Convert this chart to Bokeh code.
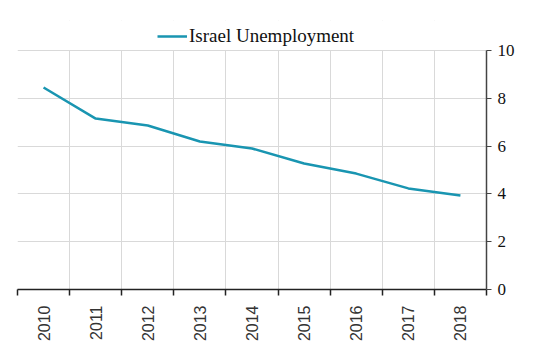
from bokeh.plotting import figure
from bokeh.models import FixedTicker, LinearAxis, Range1d, Legend, LegendItem, Grid, BoxAnnotation
from bokeh.embed import file_html
from bokeh.resources import INLINE
import math

years = ["2010", "2011", "2012", "2013", "2014", "2015", "2016", "2017", "2018"]
unemployment = [8.45, 7.15, 6.86, 6.19, 5.9, 5.27, 4.85, 4.23, 3.93]
series_name = "Israel Unemployment"
y_ticks = [0, 2, 4, 6, 8, 10]

xs = [i + 0.5 for i in range(len(years))]
SERIF = "'Liberation Serif', 'Times New Roman', serif"
Y_MAX = 10
Y_TOP = 11.255  # headroom for legend

p = figure(width=535, height=356, output_backend="svg", toolbar_location=None,
           x_range=Range1d(0, len(years)), y_range=Range1d(0, Y_TOP),
           x_axis_location=None, y_axis_location=None,
           min_border_left=17, min_border_right=49, min_border_top=20, min_border_bottom=67)
p.outline_line_color = None
p.background_fill_color = "white"
p.border_fill_color = "white"
p.xgrid.visible = False
p.ygrid.visible = False

vgrid = Grid(dimension=0, ticker=FixedTicker(ticks=list(range(len(years) + 1))),
             grid_line_color="#d9d9d9", grid_line_width=1)
p.add_layout(vgrid)
# mask grid above the top of the value axis
p.add_layout(BoxAnnotation(bottom=Y_MAX, fill_color="white", fill_alpha=1,
                           line_color=None, level="underlay"))
hgrid = Grid(dimension=1, ticker=FixedTicker(ticks=y_ticks),
             grid_line_color="#d9d9d9", grid_line_width=1)
p.add_layout(hgrid)

line = p.line(xs, unemployment, line_color="#1995b1", line_width=2.5)

# x axis
xaxis = LinearAxis(ticker=FixedTicker(ticks=xs, minor_ticks=list(range(len(years) + 1))))
xaxis.major_label_overrides = {x: y for x, y in zip(xs, years)}
xaxis.major_label_orientation = math.pi / 2
xaxis.major_tick_in = 0
xaxis.major_tick_out = 0
xaxis.minor_tick_in = 0
xaxis.minor_tick_out = 6
xaxis.minor_tick_line_color = "#222222"
xaxis.minor_tick_line_width = 1.5
xaxis.axis_line_color = "#222222"
xaxis.axis_line_width = 1.5
xaxis.major_label_text_font = "'Liberation Sans', Arial, sans-serif"
xaxis.major_label_text_font_size = "16px"
xaxis.major_label_text_color = "#333333"
xaxis.major_label_standoff = 10
p.add_layout(xaxis, "below")

# right y axis
yaxis = LinearAxis(ticker=FixedTicker(ticks=y_ticks), bounds=(0, Y_MAX))
yaxis.major_tick_in = 0
yaxis.major_tick_out = 5
yaxis.minor_tick_line_color = None
yaxis.axis_line_color = "#444444"
yaxis.axis_line_width = 1.5
yaxis.major_tick_line_color = "#444444"
yaxis.major_label_text_font = SERIF
yaxis.major_label_text_font_size = "17px"
yaxis.major_label_text_color = "#111111"
yaxis.major_label_standoff = 6
p.add_layout(yaxis, "right")

legend = Legend(items=[LegendItem(label=series_name, renderers=[line])],
                orientation="horizontal", location=(140, 242),
                label_text_font=SERIF, label_text_font_size="19px",
                label_text_color="#111111", glyph_width=30, glyph_height=16,
                border_line_color=None, background_fill_alpha=0,
                padding=4, margin=0, label_standoff=2)
p.add_layout(legend)

open("out.html", "w").write(file_html(p, INLINE))
